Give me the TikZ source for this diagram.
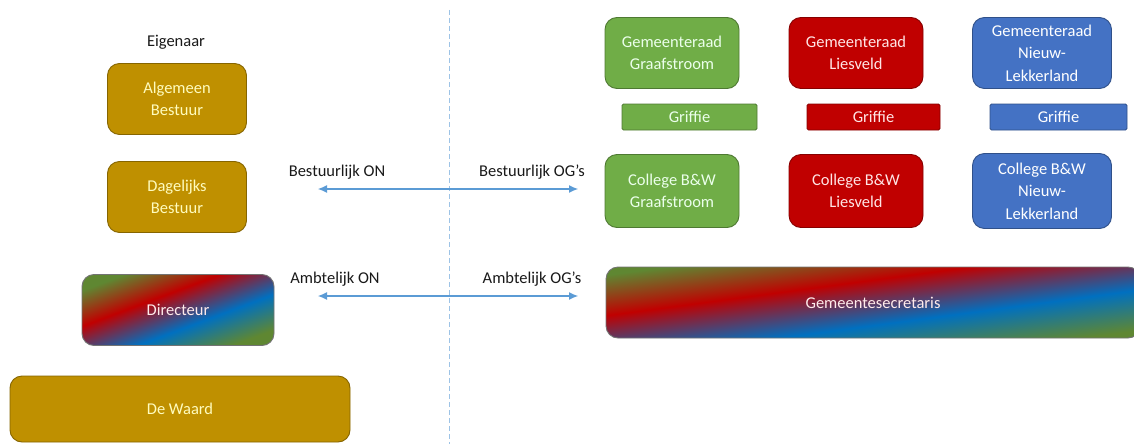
\documentclass[tikz,border=0pt]{standalone}
\usepackage{fontspec}
\setmainfont{Carlito}
\usetikzlibrary{arrows.meta,positioning,shapes}

\definecolor{goud}{RGB}{191,144,0}
\definecolor{groen}{RGB}{112,173,71}
\definecolor{rood}{RGB}{192,0,0}
\definecolor{blauw}{RGB}{68,114,196}
\definecolor{sgroen}{RGB}{95,135,50}
\definecolor{sblauw}{RGB}{0,112,192}
\definecolor{pijlblauw}{RGB}{91,155,213}
\definecolor{lijnblauw}{RGB}{157,195,230}

\pgfdeclarehorizontalshading{regenboog}{100bp}{color(0bp)=(sgroen); color(25bp)=(sgroen);
  color(41bp)=(rood); color(59bp)=(sblauw); color(75bp)=(sgroen); color(100bp)=(sgroen)}

\begin{document}
\begin{tikzpicture}[x=1pt,y=-1pt,font=\fontsize{16.5}{22.5}\selectfont,
    box/.style={fill=#1,draw=#1!70!black,line width=0.9pt,rounded corners=12pt,
                align=center,inner sep=2pt},
    griffie/.style={fill=#1,draw=#1!70!black,line width=0.9pt,rounded corners=1.5pt,
                    minimum height=26pt,inner sep=0pt},
    mix/.style={shading=regenboog,draw=black!55,line width=0.9pt,
                rounded corners=12pt,text=red!8,minimum height=71pt},
    label/.style={text=black!90,inner sep=0pt},
    pijl/.style={<->,>={Latex[length=9pt,width=8pt]},color=pijlblauw,line width=1.1pt}]
    \useasboundingbox (0,0) rectangle (1134,444);

    % eigenaar
    \node[label] (eig) at (176,42) {Eigenaar};
    \node[box=goud,text=yellow!25,minimum width=139pt,minimum height=71pt] (ab) at (177,99) {Algemeen\\Bestuur};
    \node[box=goud,text=yellow!25,minimum width=139pt,minimum height=71pt] (db) at (177,197) {Dagelijks\\Bestuur};
    \node[mix,shading angle=-69.4,minimum width=192pt] (dir) at (178,310) {Directeur};
    \node[box=goud,text=yellow!25,minimum width=340pt,minimum height=66pt] (dw) at (180,409) {De Waard};

    % scheiding
    \coordinate (sboven) at (449,10);
    \coordinate (sonder) at (449,444);
    \draw[lijnblauw,line width=0.9pt,dash pattern=on 5pt off 3pt] (sboven) -- (sonder);

    % relaties
    \node[label] (bon) at (337,172) {Bestuurlijk ON};
    \node[label] (bog) at (532,172) {Bestuurlijk OG’s};
    \node[label] (aon) at (335,279) {Ambtelijk ON};
    \node[label] (aog) at (532,279) {Ambtelijk OG’s};
    \coordinate (bl) at (318,189);
    \coordinate (br) at (578,189);
    \coordinate (al) at (318,296);
    \coordinate (ar) at (578,296);
    \draw[pijl] (bl) -- (br);
    \draw[pijl] (al) -- (ar);

    % gemeenten
    \node[box=groen,text=green!8,minimum width=134pt,minimum height=71pt] (grG) at (672,53) {Gemeenteraad\\Graafstroom};
    \node[box=rood,text=red!10,minimum width=134pt,minimum height=71pt] (grL) at (856,53) {Gemeenteraad\\Liesveld};
    \node[box=blauw,text=white,minimum width=139pt,minimum height=71pt] (grN) at (1042,53) {Gemeenteraad\\Nieuw-\\Lekkerland};

    \node[griffie=groen,text=green!8,minimum width=135pt] (gfG) at (689.5,117) {Griffie};
    \node[griffie=rood,text=red!10,minimum width=133pt] (gfL) at (873.5,117) {Griffie};
    \node[griffie=blauw,text=white,minimum width=137pt] (gfN) at (1058.5,117) {Griffie};

    \node[box=groen,text=green!8,minimum width=134pt,minimum height=73pt] (cbG) at (672,191) {College B\&W\\Graafstroom};
    \node[box=rood,text=red!10,minimum width=134pt,minimum height=73pt] (cbL) at (856,191) {College B\&W\\Liesveld};
    \node[box=blauw,text=white,minimum width=139pt,minimum height=75pt] (cbN) at (1042,191) {College B\&W\\Nieuw-\\Lekkerland};

    \node[mix,shading angle=-82.4,minimum width=534pt] (gs) at (873,302.5) {Gemeentesecretaris};
\end{tikzpicture}
\end{document}
